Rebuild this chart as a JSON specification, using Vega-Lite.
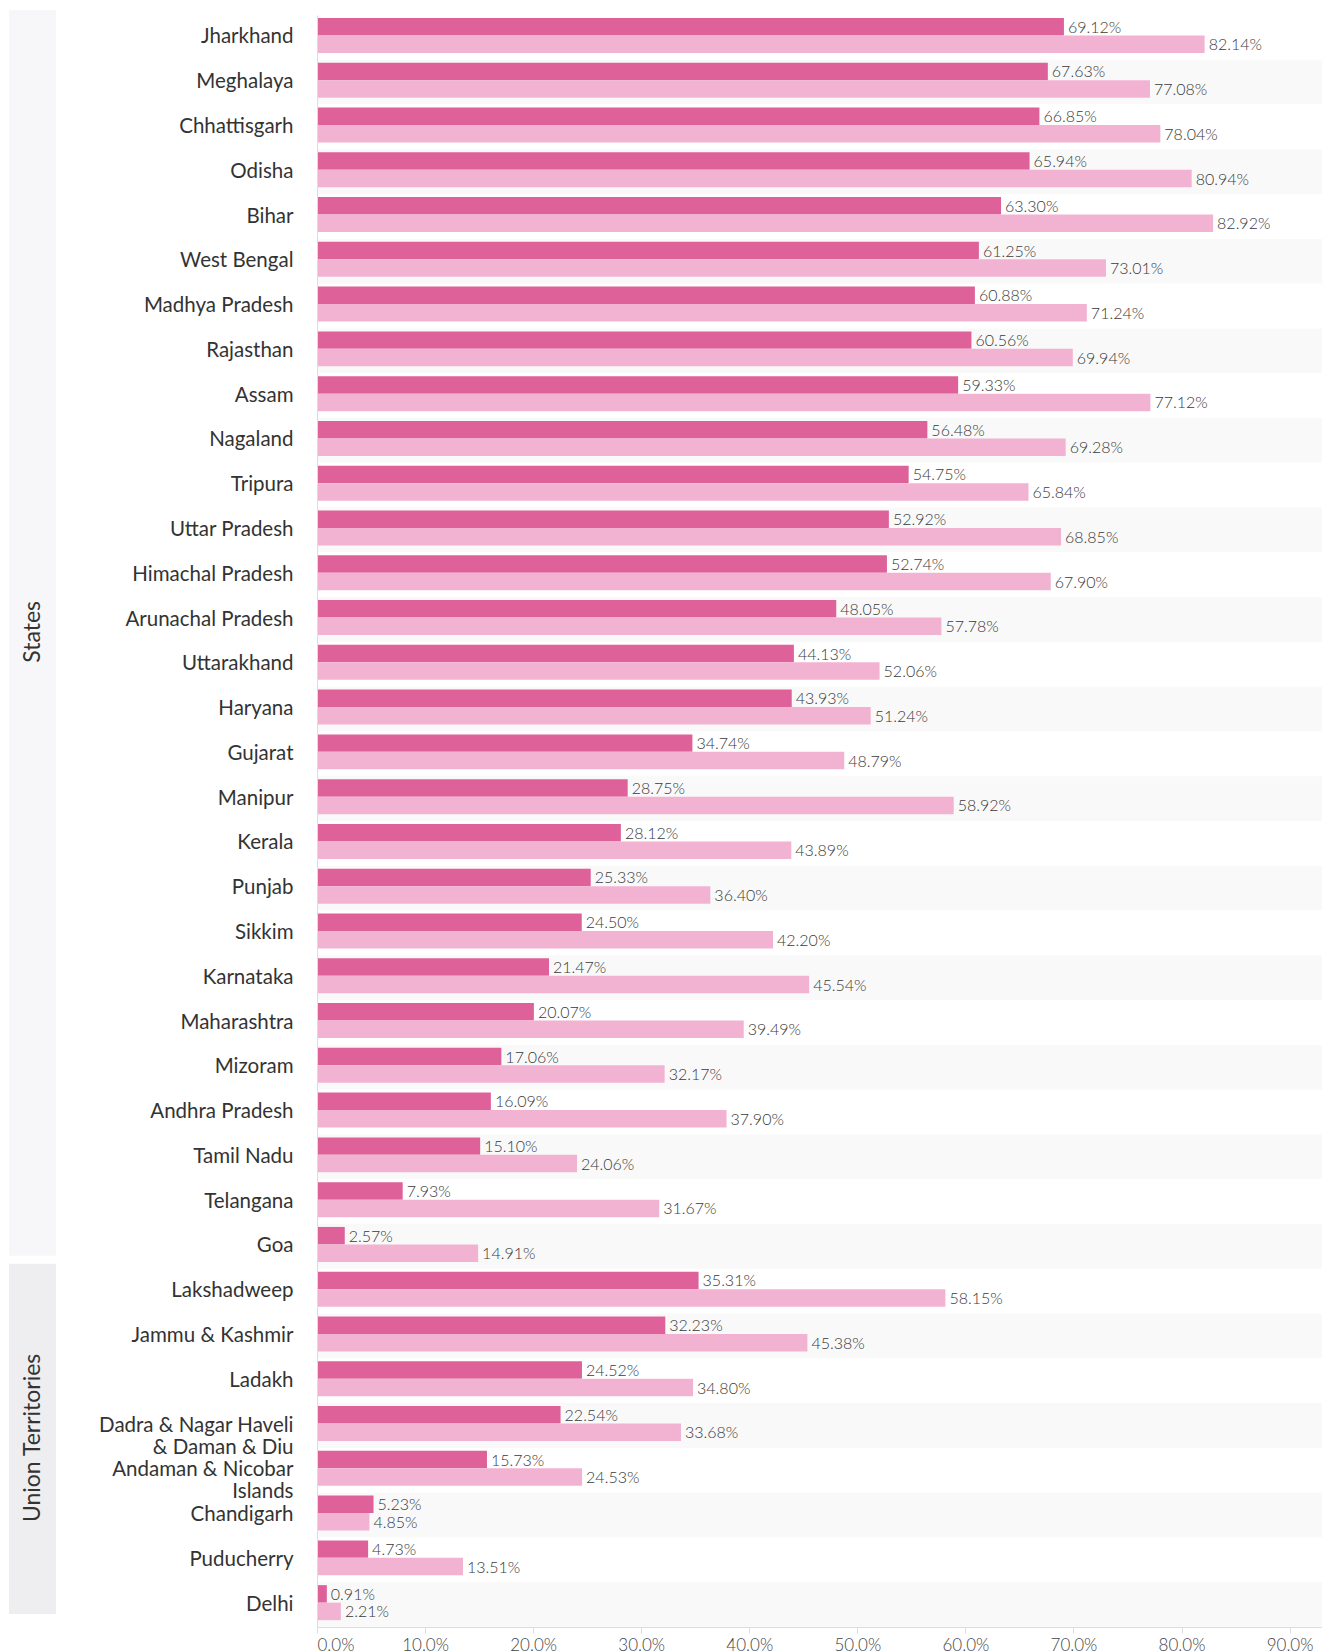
{
  "$schema": "https://vega.github.io/schema/vega-lite/v6.json",
  "background": "white",
  "padding": {"left": 9, "top": 10, "right": 0, "bottom": 0},
  "autosize": {"type": "pad"},
  "bounds": "flush",
  "spacing": 261,
  "config": {"view": {"stroke": null}, "font": "Lato"},
  "datasets": {
    "rows": [
      {"state": "Jharkhand", "group": "States", "a": 69.12, "b": 82.14},
      {"state": "Meghalaya", "group": "States", "a": 67.63, "b": 77.08},
      {"state": "Chhattisgarh", "group": "States", "a": 66.85, "b": 78.04},
      {"state": "Odisha", "group": "States", "a": 65.94, "b": 80.94},
      {"state": "Bihar", "group": "States", "a": 63.30, "b": 82.92},
      {"state": "West Bengal", "group": "States", "a": 61.25, "b": 73.01},
      {"state": "Madhya Pradesh", "group": "States", "a": 60.88, "b": 71.24},
      {"state": "Rajasthan", "group": "States", "a": 60.56, "b": 69.94},
      {"state": "Assam", "group": "States", "a": 59.33, "b": 77.12},
      {"state": "Nagaland", "group": "States", "a": 56.48, "b": 69.28},
      {"state": "Tripura", "group": "States", "a": 54.75, "b": 65.84},
      {"state": "Uttar Pradesh", "group": "States", "a": 52.92, "b": 68.85},
      {"state": "Himachal Pradesh", "group": "States", "a": 52.74, "b": 67.90},
      {"state": "Arunachal Pradesh", "group": "States", "a": 48.05, "b": 57.78},
      {"state": "Uttarakhand", "group": "States", "a": 44.13, "b": 52.06},
      {"state": "Haryana", "group": "States", "a": 43.93, "b": 51.24},
      {"state": "Gujarat", "group": "States", "a": 34.74, "b": 48.79},
      {"state": "Manipur", "group": "States", "a": 28.75, "b": 58.92},
      {"state": "Kerala", "group": "States", "a": 28.12, "b": 43.89},
      {"state": "Punjab", "group": "States", "a": 25.33, "b": 36.40},
      {"state": "Sikkim", "group": "States", "a": 24.50, "b": 42.20},
      {"state": "Karnataka", "group": "States", "a": 21.47, "b": 45.54},
      {"state": "Maharashtra", "group": "States", "a": 20.07, "b": 39.49},
      {"state": "Mizoram", "group": "States", "a": 17.06, "b": 32.17},
      {"state": "Andhra Pradesh", "group": "States", "a": 16.09, "b": 37.90},
      {"state": "Tamil Nadu", "group": "States", "a": 15.10, "b": 24.06},
      {"state": "Telangana", "group": "States", "a": 7.93, "b": 31.67},
      {"state": "Goa", "group": "States", "a": 2.57, "b": 14.91},
      {"state": "Lakshadweep", "group": "Union Territories", "a": 35.31, "b": 58.15},
      {"state": "Jammu & Kashmir", "group": "Union Territories", "a": 32.23, "b": 45.38},
      {"state": "Ladakh", "group": "Union Territories", "a": 24.52, "b": 34.80},
      {"state": "Dadra & Nagar Haveli & Daman & Diu", "group": "Union Territories", "a": 22.54, "b": 33.68},
      {"state": "Andaman & Nicobar Islands", "group": "Union Territories", "a": 15.73, "b": 24.53},
      {"state": "Chandigarh", "group": "Union Territories", "a": 5.23, "b": 4.85},
      {"state": "Puducherry", "group": "Union Territories", "a": 4.73, "b": 13.51},
      {"state": "Delhi", "group": "Union Territories", "a": 0.91, "b": 2.21}
    ],
    "groups": [
      {"group": "States", "start": 0, "end": 28},
      {"group": "Union Territories", "start": 28, "end": 36}
    ]
  },
  "hconcat": [
    {
      "width": 47,
      "height": 1612,
      "data": {"name": "groups"},
      "transform": [{"calculate": "(datum.start + datum.end) / 2", "as": "mid"}],
      "layer": [
        {
          "mark": {"type": "rect", "yOffset": -5, "y2Offset": -13},
          "encoding": {
            "y": {"field": "start", "type": "quantitative", "scale": {"domain": [0, 36], "reverse": true, "nice": false, "zero": false}, "axis": null},
            "y2": {"field": "end"},
            "x": {"value": 0},
            "x2": {"value": "width"},
            "fill": {"field": "group", "type": "nominal", "scale": {"domain": ["States", "Union Territories"], "range": ["#f7f7f9", "#eeeef1"]}, "legend": null}
          }
        },
        {
          "mark": {"type": "text", "angle": 270, "fontSize": 23, "color": "#333333", "font": "Lato", "yOffset": -10, "baseline": "middle", "align": "center"},
          "encoding": {
            "y": {"field": "mid", "type": "quantitative"},
            "text": {"field": "group"}
          }
        }
      ]
    },
    {
      "width": 1005,
      "height": 1612,
      "data": {"name": "rows"},
      "transform": [{"window": [{"op": "row_number", "as": "idx"}]}],
      "encoding": {
        "y": {
          "field": "state", "type": "nominal", "sort": null,
          "scale": {"paddingInner": 0, "paddingOuter": 0},
          "axis": {
            "title": null, "ticks": false, "domain": true, "domainColor": "#dddddd",
            "labelPadding": 24, "labelFontSize": 20.5, "labelColor": "#333333", "labelFont": "Lato",
            "labelLineHeight": 22, "labelLimit": 300,
            "labelExpr": "datum.label == 'Dadra & Nagar Haveli & Daman & Diu' ? ['Dadra & Nagar Haveli', '& Daman & Diu'] : datum.label == 'Andaman & Nicobar Islands' ? ['Andaman & Nicobar', 'Islands'] : datum.label"
          }
        }
      },
      "layer": [
        {
          "mark": {"type": "rect"},
          "encoding": {
            "x": {"value": 0},
            "x2": {"value": "width"},
            "fill": {"condition": {"test": "datum.idx % 2 == 0", "value": "#f9f9f9"}, "value": "#ffffff"}
          }
        },
        {
          "transform": [{"fold": ["a", "b"], "as": ["series", "value"]}],
          "mark": {"type": "bar"},
          "encoding": {
            "x": {
              "field": "value", "type": "quantitative",
              "scale": {"domain": [0, 93], "nice": false, "zero": true},
              "axis": {
                "title": null, "grid": false, "values": [0, 10, 20, 30, 40, 50, 60, 70, 80, 90],
                "labelExpr": "format(datum.value, '.1f') + '%'",
                "domainColor": "#dddddd", "tickColor": "#dddddd", "tickSize": 6,
                "labelFontSize": 17, "labelFontWeight": 300, "labelColor": "#444444", "labelFont": "Lato", "labelPadding": 4
              }
            },
            "yOffset": {"field": "series", "type": "nominal", "scale": {"paddingInner": 0, "paddingOuter": 0.28, "align": 0.3}},
            "color": {"field": "series", "type": "nominal", "scale": {"domain": ["a", "b"], "range": ["#de6299", "#f2b3d2"]}, "legend": null}
          }
        },
        {
          "transform": [
            {"fold": ["a", "b"], "as": ["series", "value"]},
            {"calculate": "format(datum.value, '.2f') + '%'", "as": "label"}
          ],
          "mark": {"type": "text", "align": "left", "baseline": "middle", "dx": 4, "dy": 1, "fontSize": 16, "fontWeight": 300, "color": "#3a3a3a", "font": "Lato"},
          "encoding": {
            "x": {"field": "value", "type": "quantitative"},
            "yOffset": {"field": "series", "type": "nominal"},
            "text": {"field": "label"}
          }
        }
      ]
    }
  ]
}
